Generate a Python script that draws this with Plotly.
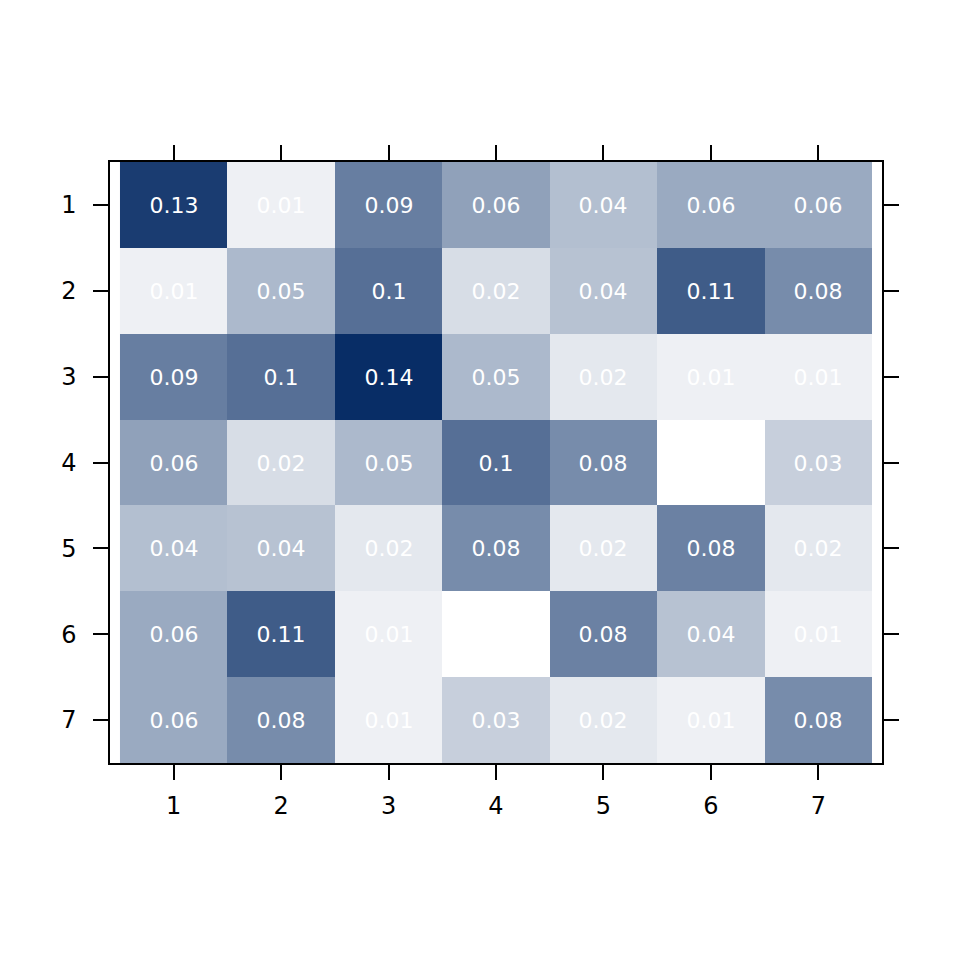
import plotly.graph_objects as go

labels = [1, 2, 3, 4, 5, 6, 7]

# symmetric matrix of values (None = empty cell)
row1 = [0.130, 0.0097, 0.086, 0.063, 0.043, 0.057, 0.057]
row2 = [0.0097, 0.047, 0.096, 0.0227, 0.041, 0.109, 0.077]
row3 = [0.086, 0.096, 0.140, 0.047, 0.0153, 0.0097, 0.0097]
row4 = [0.063, 0.0227, 0.047, 0.096, 0.077, None, 0.032]
row5 = [0.043, 0.041, 0.0153, 0.077, 0.0153, 0.084, 0.0153]
row6 = [0.057, 0.109, 0.0097, None, 0.084, 0.041, 0.0097]
row7 = [0.057, 0.077, 0.0097, 0.032, 0.0153, 0.0097, 0.077]

z = [row1, row2, row3, row4, row5, row6, row7]


def fmt(v):
    if v is None:
        return ""
    return f"{round(v, 2):g}"


text = [[fmt(v) for v in row] for row in z]

fig = go.Figure(
    go.Heatmap(
        x=labels,
        y=labels,
        z=z,
        text=text,
        texttemplate="%{text}",
        textfont=dict(color="white", size=22, family="DejaVu Sans"),
        colorscale=[[0, "rgb(255,255,255)"], [1, "rgb(8,45,102)"]],
        zmin=0,
        zmax=0.14,
        showscale=False,
        hoverongaps=False,
    )
)

axis_common = dict(
    showline=True,
    linecolor="black",
    linewidth=1.5,
    mirror="ticks",
    ticks="outside",
    ticklen=15,
    tickwidth=1.5,
    tickcolor="black",
    showgrid=False,
    zeroline=False,
    tickfont=dict(size=24, color="black", family="DejaVu Sans"),
    tickmode="array",
    tickvals=labels,
    ticktext=[str(v) for v in labels],
)

fig.update_xaxes(range=[0.407, 7.593], ticklabelstandoff=5, **axis_common)
fig.update_yaxes(range=[7.5, 0.5], ticklabelstandoff=12, **axis_common)

fig.update_layout(
    width=960,
    height=960,
    margin=dict(l=102, r=86, t=154, b=205),
    paper_bgcolor="white",
    plot_bgcolor="white",
    font=dict(family="DejaVu Sans"),
)

fig.write_html("out.html")
